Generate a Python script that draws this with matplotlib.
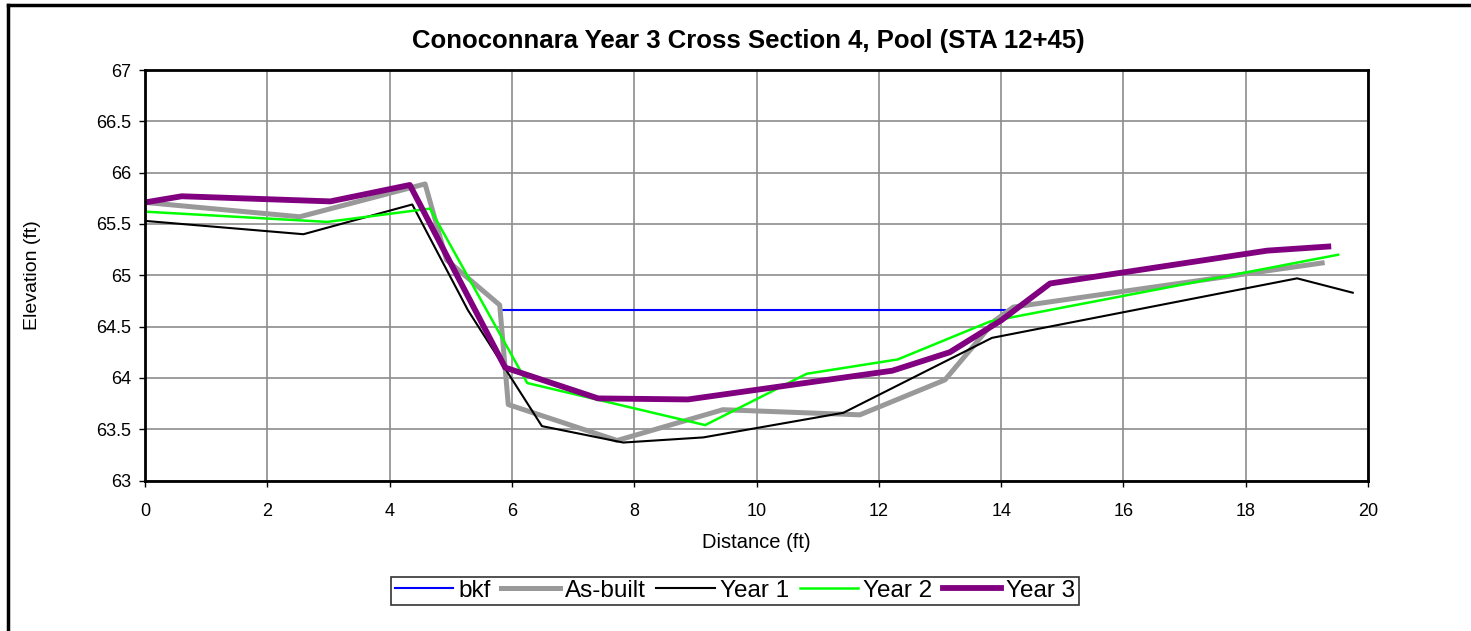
import matplotlib.pyplot as plt
from matplotlib.lines import Line2D

plt.rcParams["font.family"] = ["Liberation Sans", "DejaVu Sans"]

# surveyed cross-section points (distance ft, elevation ft)
bkf_x = [5.85, 14.06]
bkf_y = [64.66, 64.66]

asbuilt_x = [0.0, 2.53, 4.58, 4.93, 5.80, 5.94, 7.72, 9.45, 11.69, 13.08, 13.90, 14.20, 19.25]
asbuilt_y = [65.71, 65.57, 65.89, 65.15, 64.71, 63.74, 63.39, 63.69, 63.64, 63.98, 64.56, 64.69, 65.12]

year1_x = [0.0, 2.59, 4.37, 5.28, 6.49, 7.82, 9.13, 11.42, 13.85, 18.84, 19.75]
year1_y = [65.53, 65.40, 65.69, 64.66, 63.53, 63.37, 63.42, 63.66, 64.39, 64.97, 64.83]

year2_x = [0.0, 2.98, 4.66, 6.25, 9.16, 10.82, 12.31, 13.82, 19.51]
year2_y = [65.62, 65.52, 65.65, 63.95, 63.54, 64.04, 64.18, 64.55, 65.20]

year3_x = [0.0, 0.60, 3.03, 4.33, 5.89, 7.41, 8.88, 12.22, 13.16, 14.00, 14.80, 18.35, 19.35]
year3_y = [65.71, 65.77, 65.72, 65.88, 64.10, 63.80, 63.79, 64.07, 64.25, 64.56, 64.92, 65.24, 65.28]

fig = plt.figure(figsize=(14.71, 6.31), dpi=100)
ax = fig.add_axes([0.0986, 0.2385, 0.8314, 0.6505])

ax.plot(bkf_x, bkf_y, color="#0000ff", lw=1.5, label="bkf")
ax.plot(asbuilt_x, asbuilt_y, color="#999999", lw=3.6, label="As-built")
ax.plot(year1_x, year1_y, color="black", lw=1.5, label="Year 1")
ax.plot(year2_x, year2_y, color="#00ff00", lw=1.8, label="Year 2")
ax.plot(year3_x, year3_y, color="#800080", lw=4.2, label="Year 3")

ax.set_xlim(0, 20)
ax.set_ylim(63, 67)
ax.set_xticks(range(0, 21, 2))
ax.set_yticks([63, 63.5, 64, 64.5, 65, 65.5, 66, 66.5, 67])
ax.set_yticklabels(["63", "63.5", "64", "64.5", "65", "65.5", "66", "66.5", "67"])
ax.grid(True, color="#8c8c8c", lw=1.2)
ax.set_axisbelow(True)
for sp in ax.spines.values():
    sp.set_linewidth(2)
ax.tick_params(labelsize=13, length=4, width=1, direction="out")
ax.tick_params(axis="x", pad=12)
ax.tick_params(axis="y", pad=6)

ax.set_xlabel("Distance (ft)", fontsize=14.5)
ax.set_ylabel("Elevation (ft)", fontsize=14)
ax.xaxis.set_label_coords(0.5, -0.128)
ax.yaxis.set_label_coords(-0.085, 0.5)
ax.set_title("Conoconnara Year 3 Cross Section 4, Pool (STA 12+45)",
             fontsize=18.5, fontweight="bold", pad=16, x=0.493)

leg = fig.legend(loc="center", bbox_to_anchor=(0.4997, 0.0634), ncol=5,
                 fontsize=17.5, frameon=True, fancybox=False, edgecolor="black",
                 handlelength=2.4, handletextpad=0.2, columnspacing=0.45,
                 borderpad=0.14, borderaxespad=0)
leg.get_frame().set_linewidth(1.2)

# outer chart border (top and left edges only are inside the canvas)
bx = 8 / 1471
by = 1 - 5 / 631
fig.add_artist(Line2D([bx, 1.0], [by, by], transform=fig.transFigure, color="black", lw=2.5))
fig.add_artist(Line2D([bx, bx], [0.0, by], transform=fig.transFigure, color="black", lw=2.5))

fig.savefig("out.png", dpi=100)
